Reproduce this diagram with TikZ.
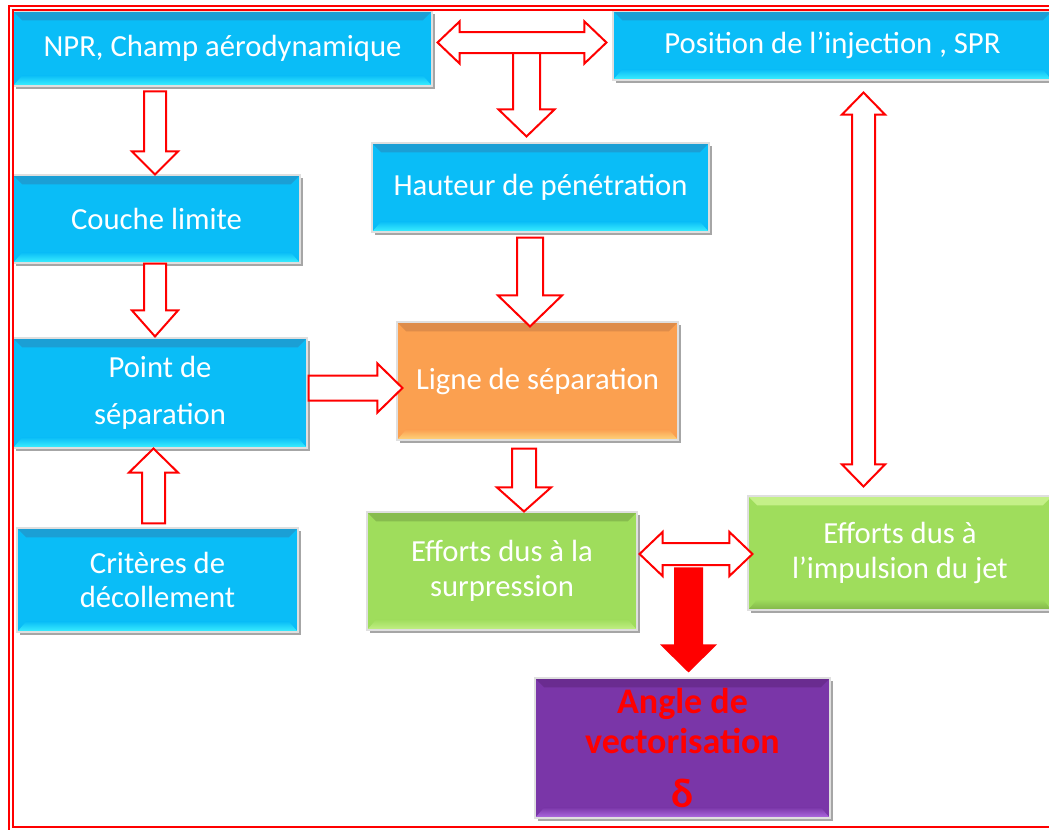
\documentclass[tikz,border=0pt]{standalone}
\usepackage{fontspec}
\setmainfont{Carlito}
\usetikzlibrary{calc}
\definecolor{bluemain}{HTML}{0ABDF7}
\definecolor{bluetop}{HTML}{1B9FD5}
\definecolor{bluebot}{HTML}{3EF2FF}
\definecolor{orangemain}{HTML}{FBA050}
\definecolor{orangetop}{HTML}{DE8C4A}
\definecolor{orangebot}{HTML}{FED67E}
\definecolor{greenmain}{HTML}{9FDD5C}
\definecolor{greenlight}{HTML}{C4F088}
\definecolor{greendark}{HTML}{80B448}
\definecolor{purplemain}{HTML}{7A36A8}
\definecolor{purpletop}{HTML}{6A2C90}
\definecolor{purplebot}{HTML}{B16DE3}
\tikzset{
  bevel/.style n args={3}{fill=#1, draw=gray!25, line width=0.8pt,
    path picture={
      \fill[#2] (path picture bounding box.north west) -- (path picture bounding box.north east)
        -- ([xshift=-7pt,yshift=-7pt]path picture bounding box.north east)
        -- ([xshift=7pt,yshift=-7pt]path picture bounding box.north west) -- cycle;
      \shade[top color=#1, bottom color=#3] ([xshift=7pt,yshift=8pt]path picture bounding box.south west)
        -- ([xshift=-7pt,yshift=8pt]path picture bounding box.south east)
        -- (path picture bounding box.south east) -- (path picture bounding box.south west) -- cycle;
    }},
  boxtext/.style={rectangle, inner sep=0pt, align=center, text=white, font=\fontsize{23}{26}\selectfont},
  bluebox/.style={boxtext, bevel={bluemain}{bluetop}{bluebot}},
  orangebox/.style={boxtext, bevel={orangemain}{orangetop}{orangebot}},
  greenboxa/.style={boxtext, bevel={greenmain}{greenmain!85!black}{greenlight}},
  greenboxb/.style={boxtext, bevel={greenmain}{greenlight}{greendark}},
  purplebox/.style={boxtext, text=red, font=\bfseries\fontsize{27}{30}\selectfont, bevel={purplemain}{purpletop}{purplebot}},
  hollow/.style={draw=red, fill=white, line width=1.5pt, line join=miter},
  solidarrow/.style={fill=red, draw=none},
  frameline/.style={draw=red, line width=1.6pt},
}
% box: name, x1, y1, x2, y2, style, text  (pixel units)
\newcommand\bx[7]{%
  \fill[gray!70] ({#2+2.5},{#3+2.5}) rectangle ({#4+2.5},{#5+2.5});
  \node[#6, minimum width={(#4-#2)*0.75pt}, minimum height={(#5-#3)*0.75pt}] (#1) at ({(#2+#4)/2},{(#3+#5)/2}) {#7};
}
% block arrow: style, start, tip, shaft half width, head half width, head length (px)
\newcommand\barrow[6]{%
  \pgfmathsetlengthmacro\baw{#4*0.75pt}%
  \pgfmathsetlengthmacro\baW{#5*0.75pt}%
  \pgfmathsetlengthmacro\baL{#6*0.75pt}%
  \path ($(#3)!\baL!(#2)$) coordinate (bah);
  \path[#1] ($(#2)!\baw!90:(#3)$) -- ($(bah)!\baw!-90:(#2)$) -- ($(bah)!\baW!-90:(#2)$) -- (#3)
    -- ($(bah)!\baW!90:(#2)$) -- ($(bah)!\baw!90:(#2)$) -- ($(#2)!\baw!-90:(#3)$) -- cycle;
}
% double block arrow: style, tip A, tip B, shaft half width, head half width, head length (px)
\newcommand\dbarrow[6]{%
  \pgfmathsetlengthmacro\baw{#4*0.75pt}%
  \pgfmathsetlengthmacro\baW{#5*0.75pt}%
  \pgfmathsetlengthmacro\baL{#6*0.75pt}%
  \path ($(#2)!\baL!(#3)$) coordinate (dha) ($(#3)!\baL!(#2)$) coordinate (dhe);
  \path[#1] (#2) -- ($(dha)!\baW!90:(#3)$) -- ($(dha)!\baw!90:(#3)$) -- ($(dhe)!\baw!-90:(#2)$)
    -- ($(dhe)!\baW!-90:(#2)$) -- (#3) -- ($(dhe)!\baW!90:(#2)$) -- ($(dhe)!\baw!90:(#2)$)
    -- ($(dha)!\baw!-90:(#3)$) -- ($(dha)!\baW!-90:(#3)$) -- cycle;
}
\begin{document}
\begin{tikzpicture}[x=0.75pt,y=-0.75pt]
\useasboundingbox (0,0) rectangle (1049,829);
\fill[white] (0,0) rectangle (1049,829);

% boxes
\bx{npr}{13}{11}{432}{86}{bluebox}{NPR, Champ aérodynamique}
\bx{pos}{613}{11}{1052}{80}{bluebox}{Position de l’injection , SPR}
\bx{couche}{13}{175}{300}{263}{bluebox}{Couche limite}
\bx{hauteur}{372}{143}{709}{232}{bluebox}{Hauteur de pénétration}
\bx{point}{13}{338}{307}{448}{bluebox}{Point de\\[9pt]séparation}
\bx{criteres}{17}{528}{298}{632}{bluebox}{Critères de\\décollement}
\bx{ligne}{397}{322}{678}{440}{orangebox}{Ligne de séparation}
\bx{surp}{367}{512}{637}{630}{greenboxa}{Efforts dus à la\\surpression}
\bx{impuls}{748}{496}{1052}{610}{greenboxb}{Efforts dus à\\l’impulsion du jet}
\bx{angle}{535}{678}{830}{818}{purplebox}{Angle de\\vectorisation\\[10pt]{\fontsize{31}{31}\selectfont δ}}

% connectors
\coordinate (tj) at ($(hauteur.north)+(-14,-90)$);
\coordinate (hautin) at ($(hauteur.north)+(-14,-6)$);
\barrow{hollow}{tj}{hautin}{13.5}{28}{27}
\coordinate (nprR) at ($(npr.east)+(5,-6)$);
\coordinate (posL) at ($(pos.west)+(-6,-3)$);
\dbarrow{hollow}{nprR}{posL}{10.5}{21}{22}

\coordinate (c1a) at ($(couche.north)+(-1.5,-83)$);
\coordinate (c1b) at ($(couche.north)+(-1.5,0)$);
\barrow{hollow}{c1a}{c1b}{11}{23}{23}

\coordinate (c2a) at ($(couche.south)+(-1.5,0)$);
\coordinate (c2b) at ($(point.north)+(-5,-1)$);
\barrow{hollow}{c2a}{c2b}{11}{23}{26}

\coordinate (c3a) at ($(criteres.north)+(-4,-4)$);
\coordinate (c3b) at ($(point.south)+(-6.5,0)$);
\barrow{hollow}{c3a}{c3b}{11.5}{24.5}{24}

\coordinate (c4a) at ($(point.east)+(1,-5)$);
\coordinate (c4b) at ($(ligne.west)+(6,7)$);
\barrow{hollow}{c4a}{c4b}{12.5}{24.5}{25}

\coordinate (c5a) at ($(hauteur.south)+(-10.5,5)$);
\coordinate (c5b) at ($(ligne.north)+(-7.5,5)$);
\barrow{hollow}{c5a}{c5b}{13}{32}{31}

\coordinate (c6a) at ($(ligne.south)+(-13.5,8)$);
\coordinate (c6b) at ($(surp.north)+(22,0)$);
\barrow{hollow}{c6a}{c6b}{12}{27}{24}

\coordinate (c7a) at ($(surp.east)+(2,-17)$);
\coordinate (c7b) at ($(impuls.west)+(5,1)$);
\dbarrow{hollow}{c7a}{c7b}{11}{22}{23}

\coordinate (c8a) at ($(angle.north)+(6,-110)$);
\coordinate (c8b) at ($(angle.north)+(6,-5)$);
\barrow{solidarrow}{c8a}{c8b}{14.5}{28.5}{28}

\coordinate (c9a) at ($(pos.south)+(31,12)$);
\coordinate (c9b) at ($(impuls.north)+(-36.5,-9)$);
\dbarrow{hollow}{c9a}{c9b}{11.5}{21.5}{22}

% frame
\draw[frameline] (9,840) -- (9,6) -- (1060,6);
\draw[frameline] (1060,10) -- (13,10) -- (13,827) -- (1060,827);
\end{tikzpicture}
\end{document}
